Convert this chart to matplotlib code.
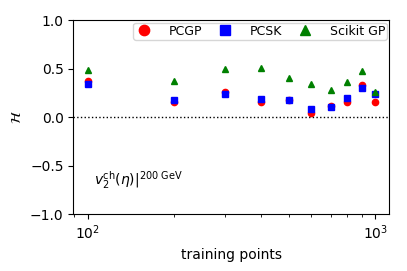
import numpy as np
from matplotlib import pyplot as plt

n_train = [100, 200, 300, 400, 500, 600, 700, 800, 900, 1000]
pcgp = [0.37, 0.157, 0.263, 0.157, 0.173, 0.043, 0.118, 0.153, 0.328, 0.157]
pcsk = [0.345, 0.177, 0.242, 0.184, 0.173, 0.08, 0.105, 0.20, 0.30, 0.242]
scikit = [0.49, 0.37, 0.50, 0.513, 0.40, 0.342, 0.284, 0.363, 0.48, 0.256]

fig = plt.figure(figsize=(4.07, 2.71), dpi=100)
ax = fig.add_axes([0.18, 0.21, 0.777, 0.715])
ax.plot(n_train, pcgp, 'o', color='red', markersize=4.5, label='PCGP')
ax.plot(n_train, pcsk, 's', color='blue', markersize=4.5, label='PCSK')
ax.plot(n_train, scikit, '^', color='green', markersize=4.5, label='Scikit GP')
ax.axhline(0, color='black', linestyle=':', linewidth=1)
ax.set_xscale('log')
ax.set_ylim(-1, 1)
ax.set_yticks([-1, -0.5, 0, 0.5, 1])
ax.set_xlabel('training points', fontsize=10)
ax.set_ylabel(r'$\mathcal{H}$', fontsize=10)
ax.tick_params(labelsize=10)
ax.text(0.065, 0.15, r'$v_2^{\rm ch}(\eta)|^{200\ {\rm GeV}}$', transform=ax.transAxes, fontsize=10)
ax.legend(loc='upper right', ncol=3, fontsize=9, markerscale=1.65, handlelength=1.5,
          handletextpad=1.2, columnspacing=1.1, borderpad=0.15, borderaxespad=0.2,
          labelspacing=0.1)
plt.savefig('out.png', dpi=100)
